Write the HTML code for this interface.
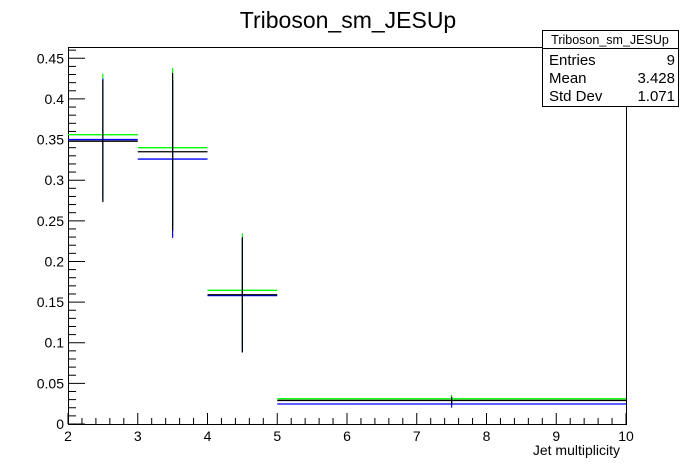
<!DOCTYPE html>
<html><head><meta charset="utf-8"><style>
body{margin:0;background:#fff;}
svg{display:block;font-family:"Liberation Sans",sans-serif;}
</style></head><body>
<svg id="c" width="696" height="472" xmlns="http://www.w3.org/2000/svg">
<rect width="696" height="472" fill="#fff"/>
<text x="348" y="28" font-size="23" text-anchor="middle">Triboson_sm_JESUp</text>
<g id="axes"></g>
<g id="marks"></g>
<g>
<rect x="542.5" y="30.5" width="136" height="76" fill="#fff" stroke="#000"/>
<line x1="542" y1="48.5" x2="678" y2="48.5" stroke="#000"/>
<text x="610" y="44" font-size="12.5" text-anchor="middle">Triboson_sm_JESUp</text>
<text x="549" y="65" font-size="15">Entries</text><text x="675" y="65" font-size="15" text-anchor="end">9</text>
<text x="549" y="83" font-size="15">Mean</text><text x="675" y="83" font-size="15" text-anchor="end">3.428</text>
<text x="549" y="101" font-size="15">Std Dev</text><text x="675" y="101" font-size="15" text-anchor="end">1.071</text>
</g>
<text x="620" y="455" font-size="14" text-anchor="end">Jet multiplicity</text>
</svg>
<script>
const binEdges=[2,3,4,5,10];
const greenVals=[0.356,0.340,0.1645,0.031];
const greenErr=[0.075,0.098,0.070,0.005];
const blueVals=[0.350,0.326,0.158,0.0246];
const blueErr=[0.075,0.097,0.070,0.0045];
const blackVals=[0.348,0.335,0.159,0.029];
const blackErr=[0.075,0.097,0.071,0.0045];
const yTicks=[0,0.05,0.1,0.15,0.2,0.25,0.3,0.35,0.4,0.45];
const xTicks=[2,3,4,5,6,7,8,9,10];
const X0=68,X1=626,Y0=424,YT=47,xMin=2,xMax=10,yScale=812.7;
const sx=v=>X0+(v-xMin)/(xMax-xMin)*(X1-X0);
const sy=v=>Y0-v*yScale;
const NS="http://www.w3.org/2000/svg";
function mk(p,tag,a){const e=document.createElementNS(NS,tag);for(const k in a)e.setAttribute(k,a[k]);p.appendChild(e);return e;}
const ax=document.getElementById('axes');
const fr=mk(ax,'rect',{x:X0+.5,y:YT+.5,width:X1-X0,height:Y0-YT,fill:'none',stroke:'#000'});


yTicks.forEach((t,i)=>{const y=sy(t);
 mk(ax,'line',{x1:X0,x2:X0+17,y1:y,y2:y,stroke:'#000'});
 const tx=mk(ax,'text',{x:X0-4,y:y+5,'font-size':14,'text-anchor':'end'});tx.textContent=String(t);
 
 
 for(let k=1;k<5;k++){const m=t+k*0.01;if(sy(m)>YT)mk(ax,'line',{x1:X0,x2:X0+8,y1:sy(m),y2:sy(m),stroke:'#000'});}
});
xTicks.forEach(t=>{const x=sx(t);
 mk(ax,'line',{x1:x,x2:x,y1:Y0,y2:Y0-11,stroke:'#000'});
 const tx=mk(ax,'text',{x:x,y:Y0+17,'font-size':14,'text-anchor':'middle'});tx.textContent=String(t);
 
 
 if(t<10)for(let k=1;k<5;k++){const m=sx(t+k*0.2);mk(ax,'line',{x1:m,x2:m,y1:Y0,y2:Y0-6,stroke:'#000'});}
});
const mg=document.getElementById('marks');
function series(vals,errs,color,name){
 vals.forEach((v,i)=>{const a=binEdges[i],b=binEdges[i+1],c=(a+b)/2;
  const g=mk(mg,'g',{});
  
  
  mk(g,'line',{x1:sx(a),x2:sx(b),y1:sy(v),y2:sy(v),stroke:color,'stroke-width':1.3});
  mk(g,'line',{x1:sx(c),x2:sx(c),y1:sy(v+errs[i]),y2:sy(v-errs[i]),stroke:color,'stroke-width':1.2});
 });
}
series(greenVals,greenErr,'#00ff00','green-series');
series(blueVals,blueErr,'#0000ff','blue-series');
series(blackVals,blackErr,'#000000','black-series');
</script>
</body></html>
